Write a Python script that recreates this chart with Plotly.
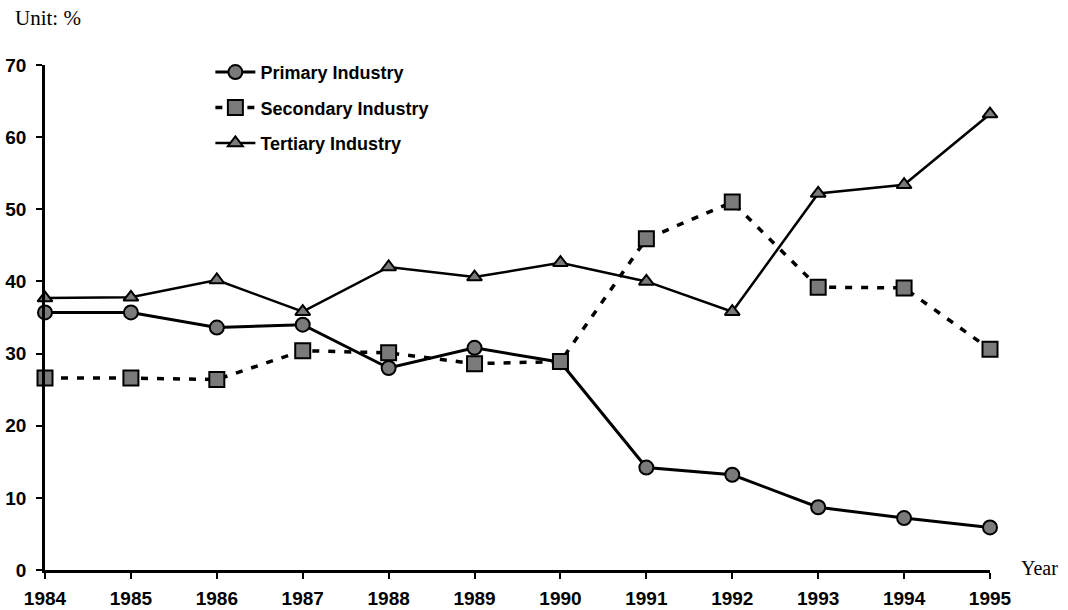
import plotly.graph_objects as go

years = [1984, 1985, 1986, 1987, 1988, 1989, 1990, 1991, 1992, 1993, 1994, 1995]
primary = [35.7, 35.7, 33.6, 34.0, 28.0, 30.8, 28.8, 14.2, 13.2, 8.7, 7.2, 5.9]
secondary = [26.6, 26.6, 26.4, 30.4, 30.1, 28.6, 28.9, 45.9, 51.0, 39.2, 39.1, 30.6]
tertiary = [37.7, 37.8, 40.2, 35.8, 42.0, 40.6, 42.6, 40.0, 35.8, 52.2, 53.4, 63.2]
y_ticks = [0, 10, 20, 30, 40, 50, 60, 70]

BOLD = dict(family="Liberation Sans, Arial, sans-serif", size=19, color="black", weight="bold")
SERIF = dict(family="Liberation Serif, Times New Roman, serif", size=21, color="black")
FILL = "#7a7a7a"

fig = go.Figure()

series = [
    ("Primary Industry", primary, "circle", "solid", 3, 14),
    ("Secondary Industry", secondary, "square", "7px,9px", 3.5, 15),
    ("Tertiary Industry", tertiary, "triangle-up", "solid", 2.5, 13),
]
for i, (name, vals, sym, dash, lw, ms) in enumerate(series):
    fig.add_trace(go.Scatter(
        x=years, y=vals, name=name, mode="lines+markers",
        line=dict(color="black", width=lw, dash=dash),
        marker=dict(symbol=sym, size=ms, color=FILL, line=dict(color="black", width=2)),
        cliponaxis=False, legendgroup=f"g{i}",
    ))

fig.update_layout(
    width=1068, height=610,
    margin=dict(l=45, r=78, t=65, b=40),
    paper_bgcolor="white", plot_bgcolor="white",
    showlegend=True,
    legend=dict(
        x=0.175, y=1.022, xanchor="left", yanchor="top",
        font=dict(family="Liberation Sans, Arial, sans-serif", size=18, color="black", weight="bold"),
        bgcolor="rgba(0,0,0,0)", tracegroupgap=9, itemwidth=40,
    ),
    xaxis=dict(
        range=[1984, 1995], tickmode="array", tickvals=years,
        ticktext=[str(y) for y in years],
        showgrid=False, zeroline=False, automargin=False,
        showline=True, linecolor="black", linewidth=2.5,
        ticks="outside", ticklen=6, tickwidth=2, tickcolor="black",
        tickfont=BOLD, ticklabelstandoff=3,
    ),
    yaxis=dict(
        range=[0, 70], tickmode="array", tickvals=y_ticks,
        showgrid=False, zeroline=False, automargin=False,
        showline=True, linecolor="black", linewidth=2.5,
        ticks="outside", ticklen=6, tickwidth=2, tickcolor="black",
        tickfont=BOLD, ticklabelstandoff=6,
    ),
    annotations=[
        dict(text="Unit: %", xref="paper", yref="paper", x=-0.034, y=1.093,
             xanchor="left", yanchor="middle", showarrow=False, font=SERIF),
        dict(text="Year", xref="paper", yref="paper", x=1.031, y=0.004,
             xanchor="left", yanchor="middle", showarrow=False,
             font=dict(family="Liberation Serif, Times New Roman, serif", size=20, color="black")),
    ],
)

fig.write_html("out.html")
